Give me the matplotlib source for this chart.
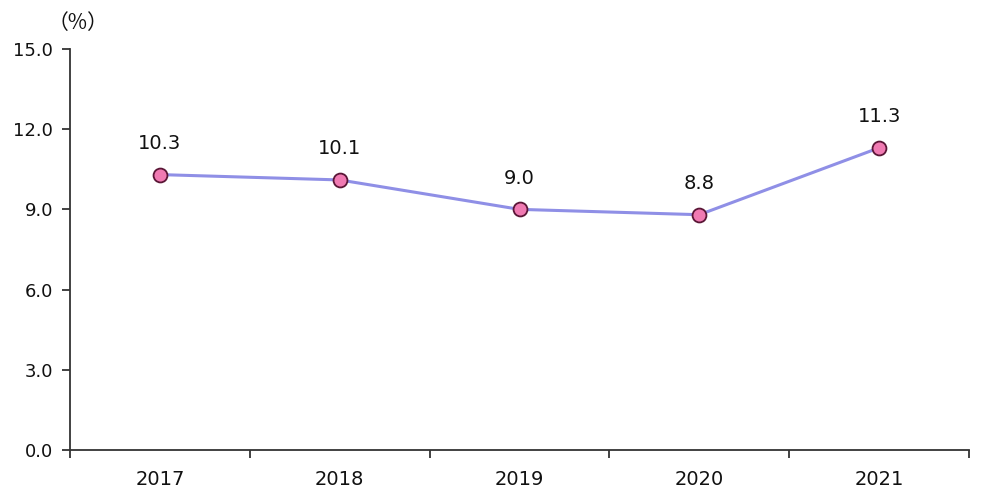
import matplotlib.pyplot as plt
import numpy as np

years = ["2017", "2018", "2019", "2020", "2021"]
rates = [10.3, 10.1, 9.0, 8.8, 11.3]
yticks = [0.0, 3.0, 6.0, 9.0, 12.0, 15.0]

plt.rcParams['font.family'] = ['DejaVu Sans', 'Noto Sans CJK SC']

fig = plt.figure(figsize=(10, 5.04), dpi=100)
ax = fig.add_axes([0.07, 0.107, 0.899, 0.796])

x = np.arange(len(years))
ax.plot(x, rates, "-", color="#8f8fe6", lw=2.2, zorder=2)
ax.plot(x, rates, "o", ms=10, mfc="#f07ab2", mec="#5a1636", mew=1.3, zorder=3)
for xi, v in zip(x, rates):
    ax.annotate(f"{v:.1f}", (xi, v), xytext=(0, 15.5), textcoords="offset points",
                ha="center", va="bottom", fontsize=14, color="#111111")

ax.set_xlim(-0.5, len(years) - 0.5)
ax.set_ylim(0, 15)
ax.set_yticks(yticks)
ax.set_yticklabels([f"{t:.1f}" for t in yticks])
ax.set_xticks(x)
ax.set_xticklabels(years)
ax.set_xticks(np.arange(len(years) + 1) - 0.5, minor=True)

for s in ["top", "right"]:
    ax.spines[s].set_visible(False)
for s in ["left", "bottom"]:
    ax.spines[s].set_color("#333333")
    ax.spines[s].set_linewidth(1.3)

ax.tick_params(axis="y", length=6, width=1.3, color="#333333", pad=6,
               labelsize=13, labelcolor="#111111")
ax.tick_params(axis="x", which="major", length=0, pad=14, labelsize=14,
               labelcolor="#111111")
ax.tick_params(axis="x", which="minor", length=6, width=1.3, color="#333333")

fig.text(0.078, 0.955, "（%）", ha="center", va="center", fontsize=15,
         color="#111111", family=["Noto Sans CJK SC", "DejaVu Sans"])

plt.savefig("out.png")
